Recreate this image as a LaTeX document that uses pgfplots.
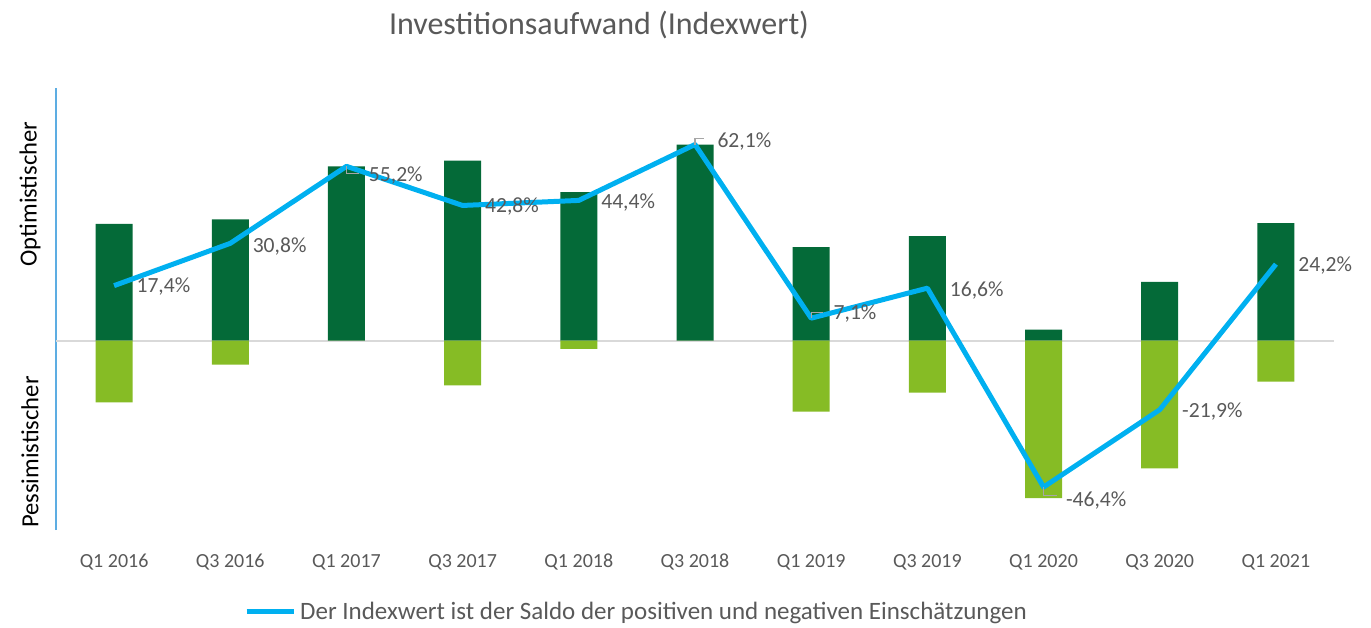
\documentclass[border=0pt]{standalone}
\usepackage{fontspec}
\setmainfont{Carlito}
\usepackage{pgfplots}
\pgfplotsset{compat=1.18}
\usepackage{pgfplotstable}

\definecolor{dgreen}{HTML}{046A38}
\definecolor{lgreen}{HTML}{86BC25}
\definecolor{idxblue}{HTML}{00B0F0}
\definecolor{axblue}{HTML}{5DADE2}
\definecolor{txtgray}{HTML}{595959}
\definecolor{zerogray}{HTML}{D9D9D9}
\definecolor{leadgray}{HTML}{A6A6A6}

% optimistic / pessimistic shares per quarter
\pgfplotstableread{
x pos neg
0 37.0 -19.6
1 38.4 -7.6
2 55.2 0
3 57.0 -14.2
4 47.0 -2.6
5 62.1 0
6 29.6 -22.5
7 33.1 -16.5
8 3.5 -49.9
9 18.6 -40.5
10 37.2 -13.0
}\bars

% index value (balance), dy = label offset in pt
\pgfplotstableread{
x y dy label
0 17.4 -0.5 17,4
1 30.8 -1.5 30,8
2 55.2 -4.5 55,2
3 42.8 -0.5 42,8
4 44.4 -1 44,4
5 62.1 1.5 62,1
6 7.1 2.5 7,1
7 16.6 -1 16,6
8 -46.4 -6.5 -46,4
9 -21.9 -1 -21,9
10 24.2 -0.5 24,2
}\idxdata

\begin{document}
\begin{tikzpicture}
\path[use as bounding box] (0,0) rectangle (685.5pt,313.5pt);
\begin{axis}[
  at={(28pt,48.5pt)}, anchor=south west,
  scale only axis, width=639pt, height=221pt,
  xmin=-0.5, xmax=10.5, ymin=-60, ymax=80,
  axis lines=left, axis line style={-},
  x axis line style={draw=none},
  y axis line style={draw=axblue, line width=1pt},
  ytick=\empty,
  xtick={0,...,10},
  xticklabels={Q1 2016,Q3 2016,Q1 2017,Q3 2017,Q1 2018,Q3 2018,Q1 2019,Q3 2019,Q1 2020,Q3 2020,Q1 2021},
  xtick style={draw=none},
  xticklabel style={font=\fontsize{10}{12}\selectfont, text=txtgray, anchor=center, yshift=-14pt},
  extra y ticks={0}, extra y tick labels={},
  extra y tick style={grid=major, major grid style={draw=zerogray, line width=1pt}, tick style={draw=none}},
  legend style={at={(0.455,-0.1855)}, anchor=center, draw=none, fill=none,
    font=\fontsize{12.5}{15}\selectfont, text=txtgray},
  legend image code/.code={\draw[#1] (0pt,0pt) -- (23.5pt,0pt);},
  clip=false,
]
\addplot[ybar, bar width=18.5pt, bar shift=0pt, fill=dgreen, draw=none, forget plot]
  table[x=x, y=pos]{\bars};
\addplot[ybar, bar width=18.5pt, bar shift=0pt, fill=lgreen, draw=none, forget plot]
  table[x=x, y=neg]{\bars};
\addplot[idxblue, line width=2.5pt, line join=round, mark=none,
  point meta=explicit symbolic,
  visualization depends on={\thisrow{dy} \as \dy},
  nodes near coords={\pgfplotspointmeta\%},
  every node near coord/.append style={anchor=west, inner sep=0pt, xshift=10pt,
    yshift=\dy pt, text=txtgray, font=\fontsize{10.8}{13}\selectfont}]
  table[x=x, y=y, meta=label]{\idxdata};
\addlegendentry{Der Indexwert ist der Saldo der positiven und negativen Einschätzungen}
% leader lines of the shifted data labels
\draw[leadgray, line width=0.6pt] (axis cs:2,55.2) -- ++(0pt,-3.5pt) -- ++(6.3pt,0pt);
\draw[leadgray, line width=0.6pt] (axis cs:5,62.1) -- ++(0pt,3pt) -- ++(4.5pt,0pt);
\draw[leadgray, line width=0.6pt] (axis cs:6,7.1) -- ++(0pt,3pt) -- ++(6pt,0pt);
\draw[leadgray, line width=0.6pt] (axis cs:8,-46.4) -- ++(0pt,-4.2pt) -- ++(6.7pt,0pt);
\end{axis}
\node[text=txtgray, font=\fontsize{16}{19}\selectfont] at (299.5pt,301pt) {Investitionsaufwand (Indexwert)};
\node[rotate=90, font=\fontsize{12.3}{15}\selectfont] at (15pt,216.5pt) {Optimistischer};
\node[rotate=90, font=\fontsize{12.3}{15}\selectfont] at (15pt,87.5pt) {Pessimistischer};
\end{tikzpicture}
\end{document}
